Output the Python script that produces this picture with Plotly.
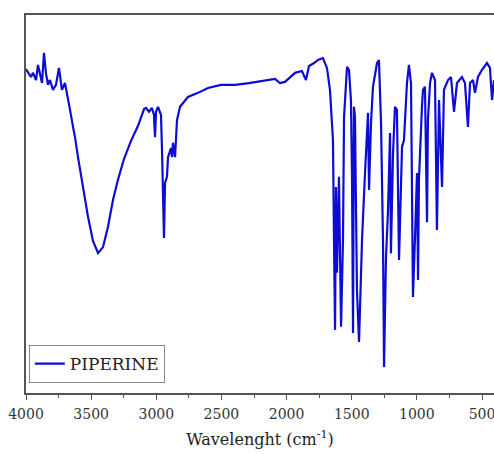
import plotly.graph_objects as go

# FTIR spectrum of piperine
wavenumber = [
    4000, 3962, 3946, 3923, 3908, 3893, 3877, 3862, 3847, 3831, 3816, 3793, 3770, 3747, 3724, 3701,
    3678, 3662, 3639, 3624, 3601, 3562, 3524, 3486, 3447, 3409, 3371, 3332, 3294, 3248, 3194, 3140,
    3094, 3079, 3056, 3033, 3018, 3010, 3002, 2987, 2964, 2956, 2949,
    2941, 2933, 2918, 2910, 2887, 2879, 2872, 2856, 2841, 2818, 2795, 2757, 2680, 2603, 2503, 2396,
    2289, 2166, 2089, 2051, 2012, 1935, 1882, 1851, 1828, 1789, 1759, 1721, 1690, 1667, 1644, 1636,
    1628, 1621, 1613, 1598,
    1590, 1582, 1567, 1559, 1536, 1521, 1506, 1498, 1490, 1483, 1475, 1467, 1460, 1444, 1437, 1421,
    1398, 1375, 1367, 1352, 1337, 1306, 1291, 1275, 1260, 1252, 1237, 1222, 1206, 1199, 1183, 1168,
    1153, 1137, 1114, 1099, 1076, 1061, 1045, 1037, 1030, 1014, 999, 991, 984, 961, 953, 938,
    922, 915, 899, 884, 861, 846, 830, 807, 792, 761, 738, 715, 692, 654, 631, 608,
    592, 569, 554, 531, 500, 462, 439, 423, 408,
]
transmittance = [
    85.7, 83.6, 84.7, 82.8, 86.8, 84.1, 82.0, 90.0, 84.7, 81.5, 82.8, 80.2, 81.5, 86.0, 80.2, 82.0,
    78.1, 74.9, 70.4, 67.7, 62.4, 54.5, 46.6, 40.2, 37.0, 38.6, 43.9, 51.1, 56.4, 61.9, 66.7, 70.7,
    75.1, 75.4, 74.4, 75.4, 73.6, 67.7, 74.4, 75.7, 73.6, 64.3, 56.4,
    41.0, 55.6, 57.2, 62.4, 64.8, 62.4, 66.2, 62.4, 72.2, 75.7, 76.7, 78.3, 79.4, 80.7, 81.5, 81.5,
    82.0, 82.8, 83.1, 82.0, 82.3, 84.7, 85.2, 82.8, 86.5, 87.3, 88.1, 88.6, 86.0, 80.2, 66.9, 40.5,
    16.7, 54.5, 31.8, 57.2,
    31.8, 17.5, 40.5, 73.0, 86.3, 85.5, 77.5, 58.2, 15.9, 75.7, 73.0, 49.2, 27.3, 13.5, 22.8, 40.5,
    58.2, 74.1, 53.7, 71.4, 81.0, 87.3, 88.1, 71.4, 40.5, 6.9, 36.0, 47.6, 68.8, 37.0, 63.5, 75.7,
    74.9, 35.2, 65.1, 66.9, 82.0, 86.8, 82.0, 49.2, 25.4, 41.3, 58.2, 29.9, 56.4, 75.7, 80.2, 81.0,
    45.2, 72.2, 82.0, 84.7, 82.8, 43.1, 77.5, 54.5, 80.2, 82.8, 83.6, 74.4, 82.0, 83.6, 82.0, 70.4,
    82.0, 82.8, 79.4, 83.6, 85.5, 87.3, 86.0, 77.5, 82.8,
]
series_name = "PIPERINE"
x_ticks = [4000, 3500, 3000, 2500, 2000, 1500, 1000, 500]

SERIF = "DejaVu Serif"
AXIS_COLOR = "#555555"

fig = go.Figure()
fig.add_trace(go.Scatter(
    x=wavenumber, y=transmittance, mode="lines", name=series_name,
    line=dict(color="#0c0cd4", width=2.2),
))

fig.update_layout(
    width=494, height=454,
    margin=dict(l=26, r=0, t=15, b=61),
    paper_bgcolor="white", plot_bgcolor="white",
    font=dict(family=SERIF),
    showlegend=True,
    legend=dict(
        x=0.006, y=0.026, xanchor="left", yanchor="bottom",
        bgcolor="white", bordercolor="#888888", borderwidth=1,
        font=dict(family=SERIF, size=17, color="#222222"),
        itemwidth=30, tracegroupgap=0,
    ),
    xaxis=dict(
        range=[4000, 408], autorange=False,
        tickmode="array", tickvals=x_ticks, ticktext=[str(v) for v in x_ticks],
        ticks="outside", ticklen=5, tickwidth=1.2, tickcolor=AXIS_COLOR,
        ticklabeloverflow="allow", ticklabelstandoff=2,
        minor=dict(dtick=250, tick0=0, ticks="outside", ticklen=3, tickcolor=AXIS_COLOR, showgrid=False),
        showline=True, linecolor=AXIS_COLOR, linewidth=1.5, mirror=True,
        showgrid=False, zeroline=False,
        tickfont=dict(family=SERIF, size=14, color="#333333"),
        title=dict(text="Wavelenght (cm<sup>-1</sup>)", font=dict(family=SERIF, size=16, color="#222222"), standoff=13),
    ),
    yaxis=dict(
        range=[0, 100], autorange=False,
        showticklabels=False, ticks="",
        showline=True, linecolor=AXIS_COLOR, linewidth=1.5, mirror=False,
        showgrid=False, zeroline=False,
    ),
)

fig.write_html("out.html")
